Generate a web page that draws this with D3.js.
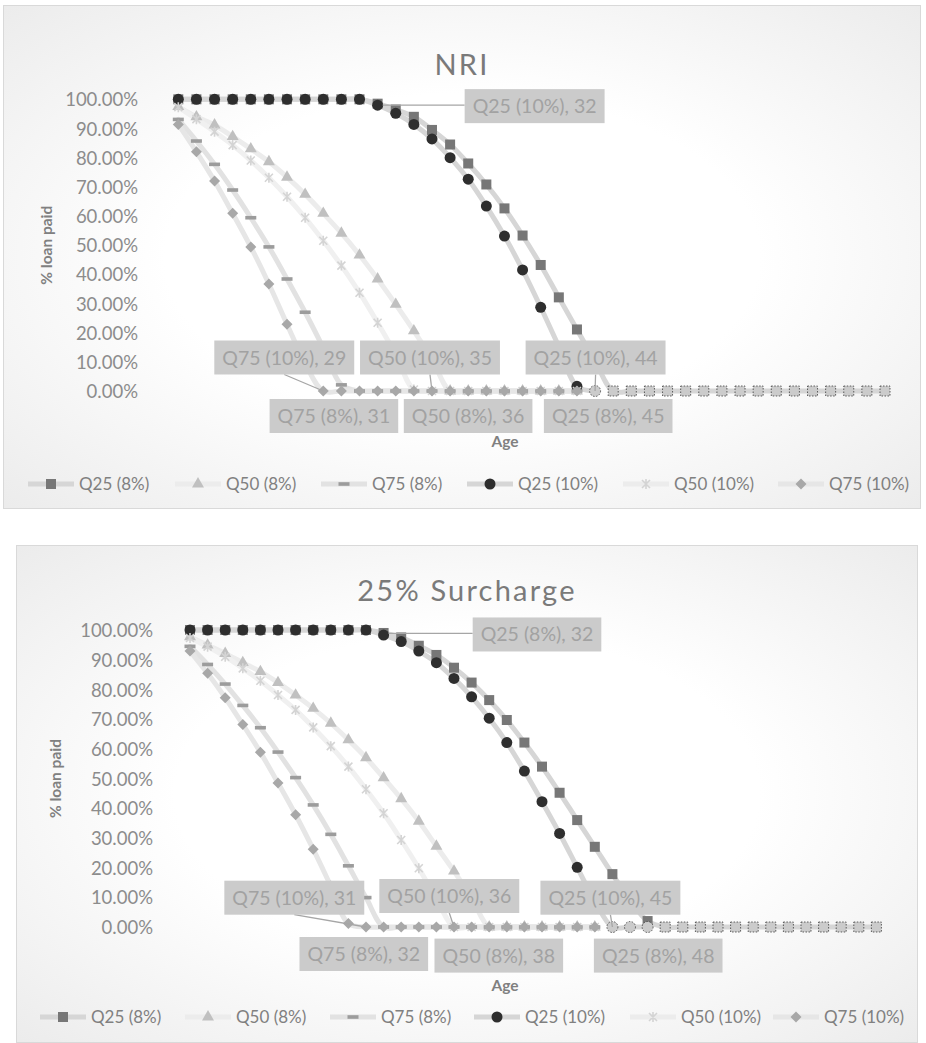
<!DOCTYPE html>
<html>
<head>
<meta charset="utf-8">
<script src="https://cdn.jsdelivr.net/npm/d3@7"></script>
<style>
  html, body { margin: 0; padding: 0; background: #ffffff; }
  svg { display: block; }
</style>
</head>
<body>
<svg id="chart" width="926" height="1043"></svg>
<script>
// ---------- categories ----------
const ages = [21,22,23,24,25,26,27,28,29,30,31,32,33,34,35,36,37,38,39,40,
              41,42,43,44,45,46,47,48,49,50,51,52,53,54,55,56,57,58,59,60];

const seriesNames = ["Q25 (8%)", "Q50 (8%)", "Q75 (8%)", "Q25 (10%)", "Q50 (10%)", "Q75 (10%)"];

const yTicks = [0,10,20,30,40,50,60,70,80,90,100];

// ---------- NRI: % of loan still to be paid, by age ----------
const nriQ25_8  = [100,100,100,100,100,100,100,100,100,100,100,98.5,96.5,94.0,89.5,84.5,78.0,70.8,62.6,53.3,
                   43.2,32.1,21.1,10.2,0,0,0,0,0,0,0,0,0,0,0,0,0,0,0,0];
const nriQ50_8  = [97.5,94.0,91.2,87.2,83.0,78.6,73.3,67.4,60.9,54.1,46.6,38.4,29.7,20.6,11.0,0,0,0,0,0,
                   0,0,0,null,null,null,null,null,null,null,null,null,null,null,null,null,null,null,null,null];
const nriQ75_8  = [93.1,85.7,77.7,68.9,59.4,49.4,38.4,27.0,14.8,2.1,0,0,0,0,0,0,0,0,0,0,
                   0,0,0,null,null,null,null,null,null,null,null,null,null,null,null,null,null,null,null,null];
const nriQ25_10 = [100,100,100,100,100,100,100,100,100,100,100,98.0,95.2,91.4,86.4,80.0,72.6,63.4,53.1,41.5,
                   28.7,15.2,1.6,0,null,null,null,null,null,null,null,null,null,null,null,null,null,null,null,null];
const nriQ50_10 = [97.3,93.2,88.9,84.3,79.0,73.1,66.6,59.4,51.5,43.0,33.7,23.4,12.5,0.5,0,0,0,0,0,0,
                   0,0,0,null,null,null,null,null,null,null,null,null,null,null,null,null,null,null,null,null];
const nriQ75_10 = [91.4,82.0,72.0,60.9,49.4,36.7,22.9,9.5,0,0,0,0,0,0,0,0,0,0,0,0,
                   0,0,0,null,null,null,null,null,null,null,null,null,null,null,null,null,null,null,null,null];

// ---------- 25% Surcharge ----------
const surQ25_8  = [100,100,100,100,100,100,100,100,100,100,100,99.0,97.5,94.7,91.6,87.3,82.3,76.4,69.7,62.1,
                   54.0,45.2,36.0,27.0,17.8,9.2,2.0,0,0,0,0,0,0,0,0,0,0,0,0,0];
const surQ50_8  = [97.7,94.9,92.1,89.0,86.0,82.3,78.1,73.6,68.6,63.0,57.0,50.2,43.2,35.6,27.2,18.8,9.8,0,0,0,
                   0,0,0,0,null,null,null,null,null,null,null,null,null,null,null,null,null,null,null,null];
const surQ75_8  = [94.5,88.4,81.8,74.6,67.1,58.9,50.3,41.1,31.2,20.6,9.9,0,0,0,0,0,0,0,0,0,
                   0,0,0,0,null,null,null,null,null,null,null,null,null,null,null,null,null,null,null,null];
const surQ25_10 = [100,100,100,100,100,100,100,100,100,100,100,98.3,96.1,92.9,89.0,83.7,77.5,70.3,62.1,52.5,
                   42.2,31.5,20.1,8.8,0,0,0,null,null,null,null,null,null,null,null,null,null,null,null,null];
const surQ50_10 = [97.3,94.4,91.0,87.1,82.9,78.1,73.1,67.2,60.9,54.0,46.4,38.3,29.3,19.8,9.6,0,0,0,0,0,
                   0,0,0,0,null,null,null,null,null,null,null,null,null,null,null,null,null,null,null,null];
const surQ75_10 = [92.9,85.4,77.2,68.2,58.8,48.5,37.8,26.2,13.8,1.2,0,0,0,0,0,0,0,0,0,0,
                   0,0,0,0,null,null,null,null,null,null,null,null,null,null,null,null,null,null,null,null];

// ---------- data labels: series + age of the annotated point ----------
const nriLabelPoints = [
  ["Q25 (10%)", 32], ["Q75 (10%)", 29], ["Q50 (10%)", 35], ["Q75 (8%)", 31],
  ["Q50 (8%)", 36], ["Q25 (10%)", 44], ["Q25 (8%)", 45]
];
const surLabelPoints = [
  ["Q25 (8%)", 32], ["Q75 (10%)", 31], ["Q50 (10%)", 36], ["Q75 (8%)", 32],
  ["Q50 (8%)", 38], ["Q25 (10%)", 45], ["Q25 (8%)", 48]
];

// ---------- appearance ----------
const seriesStyle = {
  "Q25 (8%)":  { marker: "square",   fill: "#777777", line: "#d6d6d6" },
  "Q50 (8%)":  { marker: "triangle", fill: "#c0c0c0", line: "#ececec" },
  "Q75 (8%)":  { marker: "dash",     fill: "#9c9c9c", line: "#e2e2e2" },
  "Q25 (10%)": { marker: "circle",   fill: "#2e2e2e", line: "#d6d6d6" },
  "Q50 (10%)": { marker: "star",     fill: "#d4d4d4", line: "#f0f0f0" },
  "Q75 (10%)": { marker: "diamond",  fill: "#a8a8a8", line: "#e6e6e6" }
};

// label box placement relative to the annotated point, and leader style
const nriLabelLayout = [
  { dx: 157, dy: 1, leader: "left" },
  { dx: -39, dy: -33.5, leader: "bottom" },
  { dx: -2, dy: -33.5, leader: "bottom" },
  { dx: -25.6, dy: 25, leader: null },
  { dx: 18, dy: 25, leader: null },
  { dx: 0.5, dy: -33.5, leader: "bottom" },
  { dx: -5, dy: 25, leader: null }
];
const surLabelLayout = [
  { dx: 153.4, dy: 1.5, leader: "left" },
  { dx: -71.7, dy: -29.3, leader: "bottom" },
  { dx: -4.7, dy: -31, leader: "bottom" },
  { dx: -19.8, dy: 27, leader: null },
  { dx: 9.6, dy: 28.6, leader: null },
  { dx: -2, dy: -29.3, leader: "bottom" },
  { dx: -7, dy: 28.6, leader: null }
];

const charts = [
  {
    title: "NRI",
    series: [nriQ25_8, nriQ50_8, nriQ75_8, nriQ25_10, nriQ50_10, nriQ75_10],
    labels: nriLabelPoints, labelLayout: nriLabelLayout,
    frame: { x: 3.5, y: 5.5, w: 917, h: 503 },
    titleY: 75,
    xRange: [178.3, 885], yRange: [391, 99.3],
    tickRight: 138, yTitleX: 47,
    ageY: 447, legendY: 484,
    legendX: [28, 175, 321, 467, 623, 778]
  },
  {
    title: "25% Surcharge",
    series: [surQ25_8, surQ50_8, surQ75_8, surQ25_10, surQ50_10, surQ75_10],
    labels: surLabelPoints, labelLayout: surLabelLayout,
    frame: { x: 16.5, y: 545.5, w: 901, h: 497 },
    titleY: 601,
    xRange: [190, 876.4], yRange: [927, 630],
    tickRight: 153, yTitleX: 56,
    ageY: 991, legendY: 1017,
    legendX: [40, 185, 330, 474, 630, 773]
  }
];

const FONT = "Lato, 'Open Sans', 'DejaVu Sans', sans-serif";
const svg = d3.select("#chart");
const defs = svg.append("defs");

const grad = defs.append("radialGradient").attr("id", "bgGrad")
  .attr("cx", "50%").attr("cy", "50%").attr("r", "72%");
grad.append("stop").attr("offset", "0%").attr("stop-color", "#ffffff");
grad.append("stop").attr("offset", "45%").attr("stop-color", "#ffffff");
grad.append("stop").attr("offset", "100%").attr("stop-color", "#ebebeb");

function drawMarker(g, type, fill, x, y, dotted) {
  let m;
  switch (type) {
    case "square":
      m = g.append("rect").attr("x", x - 5).attr("y", y - 5).attr("width", 10).attr("height", 10);
      break;
    case "circle":
      m = g.append("circle").attr("cx", x).attr("cy", y).attr("r", 5.5);
      break;
    case "triangle":
      m = g.append("path").attr("d", d3.symbol(d3.symbolTriangle, 62)())
        .attr("transform", `translate(${x},${y})`);
      break;
    case "diamond":
      m = g.append("path").attr("d", "M0,-5.5L5.5,0L0,5.5L-5.5,0Z")
        .attr("transform", `translate(${x},${y})`);
      break;
    case "dash":
      m = g.append("rect").attr("x", x - 5.5).attr("y", y - 1.8).attr("width", 11).attr("height", 3.6);
      break;
    case "star":
      g.append("path")
        .attr("d", "M-4,-4L4,4M-4,4L4,-4M0,-5L0,5")
        .attr("transform", `translate(${x},${y})`)
        .attr("stroke", fill).attr("stroke-width", 1.6).attr("fill", "none");
      return;
  }
  if (dotted) {
    m.attr("fill", "#cbcbcb").attr("stroke", "#3c3c3c")
      .attr("stroke-width", 0.8).attr("stroke-dasharray", "1.5,1.5");
  } else {
    m.attr("fill", fill);
  }
}

charts.forEach(cfg => {
  const root = svg.append("g");
  const f = cfg.frame;

  // chart area with soft radial shading and thin border
  root.append("rect").attr("x", f.x).attr("y", f.y).attr("width", f.w).attr("height", f.h)
    .attr("fill", "url(#bgGrad)").attr("stroke", "#d9d9d9").attr("stroke-width", 1);

  // title
  root.append("text").attr("x", f.x + f.w / 2).attr("y", cfg.titleY)
    .attr("text-anchor", "middle").attr("fill", "#7a7a7a")
    .attr("font-family", FONT).attr("font-weight", 400).attr("font-size", 29)
    .attr("letter-spacing", 2.2)
    .text(cfg.title);

  const x = d3.scalePoint().domain(ages).range(cfg.xRange).padding(0);
  const y = d3.scaleLinear().domain([0, 100]).range(cfg.yRange);

  // y axis: labels only
  const yAxis = d3.axisLeft(y).tickValues(yTicks).tickSize(0).tickPadding(0)
    .tickFormat(d => d.toFixed(2) + "%");
  const ya = root.append("g").attr("transform", `translate(${cfg.tickRight},0)`).call(yAxis);
  ya.select(".domain").remove();
  ya.selectAll("text").attr("font-family", FONT).attr("font-size", 18.5)
    .attr("fill", "#8c8c8c").attr("dy", "0.36em");

  // axis titles
  root.append("text")
    .attr("transform", `translate(${cfg.yTitleX},${(cfg.yRange[0] + cfg.yRange[1]) / 2}) rotate(-90)`)
    .attr("text-anchor", "middle").attr("dy", "0.35em")
    .attr("font-family", FONT).attr("font-weight", 700).attr("font-size", 15.5)
    .attr("fill", "#808080").text("% loan paid");
  root.append("text").attr("x", 505).attr("y", cfg.ageY)
    .attr("text-anchor", "middle")
    .attr("font-family", FONT).attr("font-weight", 700).attr("font-size", 15.5)
    .attr("fill", "#808080").text("Age");

  const seriesData = cfg.series.map((vals, i) => ({
    name: seriesNames[i],
    points: vals.map((v, j) => ({ age: ages[j], v: v }))
  }));

  // smoothed series lines
  const line = d3.line()
    .defined(d => d.v !== null)
    .x(d => x(d.age)).y(d => y(d.v))
    .curve(d3.curveCatmullRom.alpha(0.5));
  const lineG = root.append("g");
  seriesData.forEach(s => {
    lineG.append("path").datum(s.points)
      .attr("d", line).attr("fill", "none")
      .attr("stroke", seriesStyle[s.name].line).attr("stroke-width", 5)
      .attr("stroke-linejoin", "round").attr("stroke-linecap", "round");
  });

  // markers
  const markG = root.append("g");
  seriesData.forEach(s => {
    const st = seriesStyle[s.name];
    const isQ25 = s.name.startsWith("Q25");
    s.points.filter(d => d.v !== null).forEach(d => {
      drawMarker(markG, st.marker, st.fill, x(d.age), y(d.v), isQ25 && d.v === 0);
    });
  });

  // data labels
  const labG = root.append("g");
  cfg.labels.forEach((lp, i) => {
    const [name, age] = lp;
    const lay = cfg.labelLayout[i];
    const s = seriesData[seriesNames.indexOf(name)];
    const pt = s.points.find(p => p.age === age);
    const px = x(pt.age), py = y(pt.v);
    const cx = px + lay.dx, cy = py + lay.dy;

    const g = labG.append("g");
    const t = g.append("text").attr("x", cx).attr("y", cy).attr("dy", "0.36em")
      .attr("text-anchor", "middle").attr("font-family", FONT).attr("font-size", 19.5)
      .attr("fill", "#a2a2a2").text(`${name}, ${age}`);
    const w = t.node().getComputedTextLength() + 16;
    const h = 34;
    g.insert("rect", "text").attr("x", cx - w / 2).attr("y", cy - h / 2)
      .attr("width", w).attr("height", h).attr("fill", "#cbcbcb");

    if (lay.leader === "left") {
      labG.insert("line", ":first-child")
        .attr("x1", px + 5).attr("y1", cy - 1).attr("x2", cx - w / 2).attr("y2", cy - 1)
        .attr("stroke", "#a6a6a6").attr("stroke-width", 1.3);
    } else if (lay.leader === "bottom") {
      labG.insert("line", ":first-child")
        .attr("x1", cx).attr("y1", cy + h / 2).attr("x2", px).attr("y2", py)
        .attr("stroke", "#a6a6a6").attr("stroke-width", 1.3);
    }
  });

  // legend
  const legG = root.append("g");
  seriesNames.forEach((name, i) => {
    const st = seriesStyle[name];
    const lx = cfg.legendX[i], ly = cfg.legendY;
    legG.append("line").attr("x1", lx).attr("x2", lx + 46).attr("y1", ly).attr("y2", ly)
      .attr("stroke", st.line === "#f0f0f0" ? "#ececec" : st.line).attr("stroke-width", 5);
    drawMarker(legG, st.marker, st.fill, lx + 23, ly, false);
    legG.append("text").attr("x", lx + 51).attr("y", ly).attr("dy", "0.36em")
      .attr("font-family", FONT).attr("font-size", 17)
      .attr("fill", "#808080").text(name);
  });
});
</script>
</body>
</html>
